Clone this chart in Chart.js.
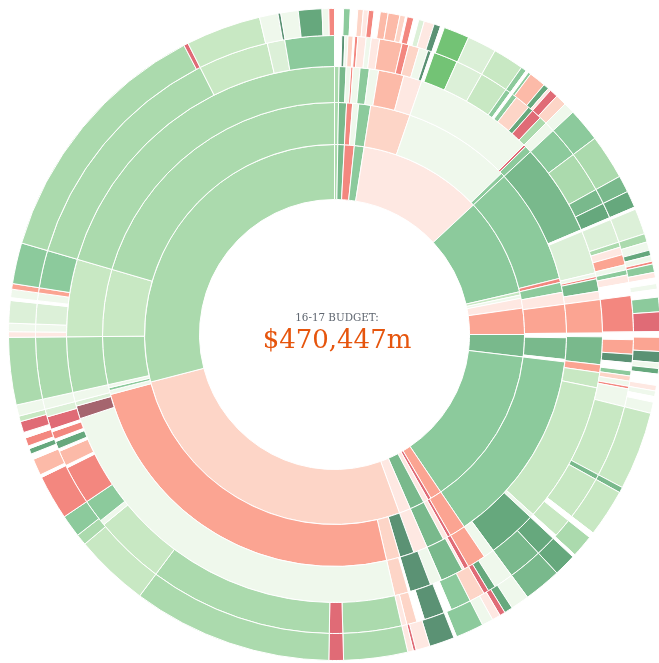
<!DOCTYPE html>
<html>
<head>
<meta charset="utf-8">
<title>16-17 Budget</title>
<script src="https://cdn.jsdelivr.net/npm/chart.js@4.4.1/dist/chart.umd.min.js"></script>
<style>
  html, body { margin:0; padding:0; background:#fff; }
  body { width:659px; height:663px; position:relative; overflow:hidden; }
  #wrap { position:absolute; left:8px; top:8px; width:653px; height:653px; }
  .center-txt { position:absolute; left:237px; width:200px; text-align:center; font-family:'DejaVu Serif', serif; white-space:nowrap; }
  #budget-label { top:310px; font-family:'DejaVu Serif Condensed', 'DejaVu Serif', serif; font-stretch:condensed; font-size:11.5px; line-height:14px; color:#5f6670; }
  #budget-total { top:322px; font-size:26px; line-height:34px; color:#e6550d; }
</style>
</head>
<body>
<div id="wrap"><canvas id="sunburst"></canvas></div>
<div class="center-txt" id="budget-label">16-17 BUDGET:</div>
<div class="center-txt" id="budget-total">$470,447m</div>

<script>
/* ═══════════════════════════════════════
   Sunburst of the 16-17 budget
   each ring = one level, values = share of the circle (degrees),
   going clockwise from 12 o'clock. T = empty (no item at that level)
═══════════════════════════════════════ */

const PALETTE = {
  T :'rgba(255,255,255,0)',
  g0:'#eff8ec', g1:'#dcf0d8', g2:'#c8e8c3', g3:'#abdaad', g4:'#8cca9c',
  g5:'#79b98c', g6:'#66a87d', g7:'#5b9274', gb:'#73c375',
  r0:'#fee8e2', r1:'#fdd5c7', r2:'#fcbaa8', r3:'#fba492', r4:'#f3877f',
  r5:'#e06b76', r6:'#a5656e'
};

// level 1 (innermost)
const RING1        = [1,2,3,3,38,30,1,1,3,8,6.8,49.2,3.5,1,1.5,4.5,3.5,95.5,104.5];
const RING1_COLORS = ['g3','g5','r4','g4','r0','g4','g2','g0','r0','r3','g5','g4','r3','r5','r0','g5','r0','r1','g3'];

// level 2
const RING2        = [1,2,1.5,1.5,3,10,27,1,29,1,2.5,3,7.2,1.1,5.4,0.6,49.2,4,0.8,1.2,4.5,3.5,3.6,3.4,88,1,0.7,0.8,12,16.8,73.7];
const RING2_COLORS = ['g3','g5','r4','g0','g4','r1','g0','g4','g4','r4','g4','r0','r3','T','g5','T','g4','r3','r5','r0','g5','r0','g7','r1','r3','g0','g4','g0','g3','g2','g3'];

// level 3
const RING3        = [1,1.5,1,0.5,1.5,2,2,5.5,4,26,0.5,1.5,20,0.4,9.3,0.8,0.5,2.7,1.8,7.2,0.8,6,1.7,3.3,30.7,0.8,10.7,2.3,4,1,0.5,5,2.5,4.6,0.4,3,84.7,2.8,1,2,12,16.8,73.7];
const RING3_COLORS = ['g3','g5','g0','r4','g0','g4','g0','r2','r0','g0','r5','g4','g5','T','g1','g0','r4','g5','r0','r3','T','g5','r3','g2','g2','g0','g6','g0','r3','r5','r0','g5','g0','g7','T','r1','g0','r6','g1','g0','g3','g2','g3'];

// level 4
const RING4        = [1.4,0.6,0.6,1,0.3,0.6,1.6,1,1.6,4.4,1.3,2.1,1.7,0.7,0.6,4.7,5.3,5.5,1,0.5,1,3,1,2,1.5,2,6,8,3,3,0.4,4.6,1,1.5,2,1,1,1.5,2.5,7,1.5,2.8,1.7,1.5,1,1,1,0.5,3.5,14,1,8.5,1,3.7,0.8,4,6.7,3.8,1.5,1,3,4,1.5,4,1.5,2,1,11.4,2.6,35.7,13.8,1,4.5,7.5,0.5,3,0.5,1.5,0.5,1.5,0.5,2.5,1.5,2,12,1,1.5,4,0.5,1.5,1,7.3,47,13.7,3.4,9.6];
const RING4_COLORS = ['T','g7','g0','r1','T','r4','r0','g0','r0','r2','r4','r1','g0','g7','T','gb','g1','g2','g4','T','g4','r1','g6','r5','g3','g0','g4','g3','g5','g6','T','g1','g3','r0','r3','g0','g4','r0','T','r4','T','r3','g7','T','g4','r1','g0','r4','g0','g2','g5','g2','T','g2','T','g6','g5','g0','g6','r5','r1','g4','T','g7','T','r1','r0','g3','r5','g3','g2','g0','g4','r4','T','r2','T','g6','T','r4','T','r5','g1','g0','g3','r0','g0','g1','T','g0','r3','g4','g3','g2','g1','g4'];

// level 5 (outermost)
const RING5        = [1.6,1.2,1.3,1,0.9,1,1.1,1.4,2.1,1,0.3,1.2,0.9,1,1.8,1.2,0.7,4.6,5.2,5.5,1,0.5,0.5,3,1,0.5,1.5,2,2,6,8,3,3,0.4,4.6,1.5,1.5,1,1,0.5,1.5,1,1,1,1.4,2.6,3.5,1,2.5,2,1,1,2,1,1,1,2,14,1,8.5,1,4,0.5,4,6.7,3.3,1.5,1,1.5,2,5,0.5,4.5,2.5,0.5,1,11.4,2.6,35.7,13.3,2,4,8,0.5,3,1,1,0.5,1.5,1,2,1,2,12,1,1.5,4,0.5,1.5,1,7.3,46.2,0.8,13.4,3.3,0.5,3.1,4.2,1.2,1];
const RING5_COLORS = ['T','g4','T','r1','r0','r4','T','r2','r2','r1','T','r4','T','g1','r0','g7','T','gb','g1','g2','g4','T','g4','r2','g6','r0','r5','r1','g0','g4','g3','g5','g6','T','g1','g3','g0','g6','g0','r4','g4','r0','T','g0','T','g4','r5','T','r3','g7','g0','g6','T','r0','g0','T','g0','g2','g5','g2','T','g3','T','g6','g5','g0','g6','r5','r0','g0','g4','T','g7','r0','r5','r0','g3','r5','g3','g2','g3','g4','r4','T','r2','T','g6','T','r4','T','r5','g2','g0','g3','r0','g0','g1','T','g0','r3','g4','g3','r5','g2','g0','g7','g0','g6','g0','r4'];

function ring(values, colors, weight) {
  return {
    data: values,
    backgroundColor: colors.map(k => PALETTE[k]),
    borderColor: '#fff',
    borderWidth: 1,
    hoverOffset: 0,
    weight: weight
  };
}

window.addEventListener('DOMContentLoaded', () => {
  const ctx = document.getElementById('sunburst').getContext('2d');
  new Chart(ctx, {
    type: 'doughnut',
    data: {
      labels: [],
      // Chart.js draws dataset 0 as the outer ring
      datasets: [
        ring(RING5, RING5_COLORS, 27),
        ring(RING4, RING4_COLORS, 31),
        ring(RING3, RING3_COLORS, 36),
        ring(RING2, RING2_COLORS, 42),
        ring(RING1, RING1_COLORS, 55)
      ]
    },
    options: {
      responsive: true,
      maintainAspectRatio: false,
      animation: false,
      cutout: 135,
      layout: { padding: 0 },
      events: [],
      plugins: { legend: { display: false }, tooltip: { enabled: false } }
    }
  });
});
</script>
</body>
</html>
